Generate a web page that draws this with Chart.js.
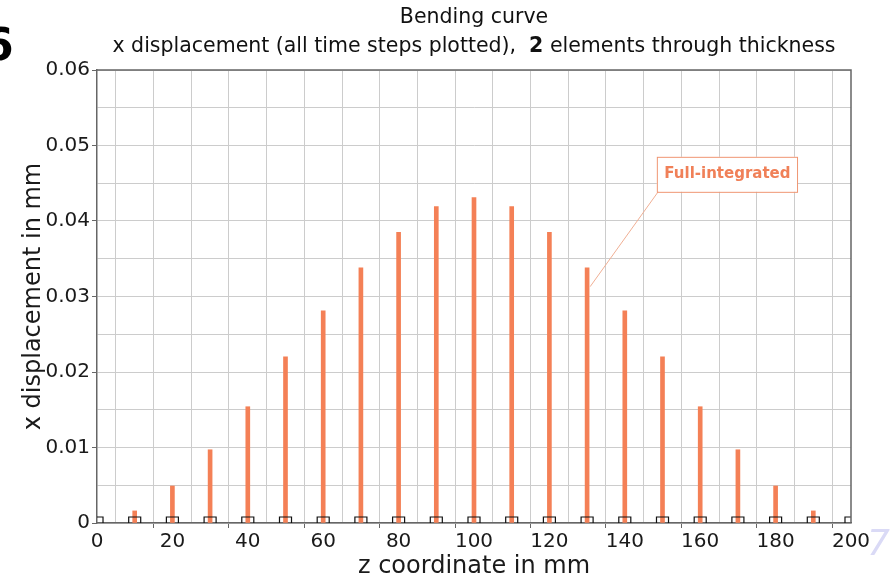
<!DOCTYPE html>
<html>
<head>
<meta charset="utf-8">
<script src="https://cdn.jsdelivr.net/npm/chart.js@4.4.1/dist/chart.umd.min.js"></script>
<style>
  html, body { margin: 0; padding: 0; background: #fff; }
  #wrap { width: 894px; height: 581px; position: relative; }
</style>
</head>
<body>
<div id="wrap"><canvas id="myChart" width="894" height="581"></canvas></div>
<script>
// z positions of the nodes and the x displacement
const zCoords = [10, 20, 30, 40, 50, 60, 70, 80, 90, 100, 110, 120, 130, 140, 150, 160, 170, 180, 190];
const xDisp = [0.0016, 0.0049, 0.0097, 0.0154, 0.0220, 0.0281, 0.0338, 0.0385, 0.0419, 0.0431,
               0.0419, 0.0385, 0.0338, 0.0281, 0.0220, 0.0154, 0.0097, 0.0049, 0.0016];
const nodeZ = [0, 10, 20, 30, 40, 50, 60, 70, 80, 90, 100, 110, 120, 130, 140, 150, 160, 170, 180, 190, 200];
const xTickLabels = ["0", "20", "40", "60", "80", "100", "120", "140", "160", "180", "200"];
const yTickLabels = ["0", "0.01", "0.02", "0.03", "0.04", "0.05", "0.06"];

const FONT = "'DejaVu Sans', sans-serif";
const barColor = "rgb(244,128,86)";

const titlePlugin = {
  id: "titles",
  afterDraw(chart) {
    const ctx = chart.ctx;
    const area = chart.chartArea;
    const cx = (area.left + area.right) / 2;
    ctx.save();
    ctx.fillStyle = "#111";
    ctx.textBaseline = "middle";
    ctx.textAlign = "center";
    ctx.font = "20.5px " + FONT;
    ctx.fillText("Bending curve", cx, 18);

    // subtitle with a bold "2"
    const parts = [
      ["x displacement (all time steps plotted),  ", "20.5px " + FONT],
      ["2", "bold 20.5px " + FONT],
      [" elements through thickness", "20.5px " + FONT],
    ];
    let total = 0;
    parts.forEach(p => { ctx.font = p[1]; total += ctx.measureText(p[0]).width; });
    let x = cx - total / 2;
    ctx.textAlign = "left";
    parts.forEach(p => {
      ctx.font = p[1];
      ctx.fillText(p[0], x, 47);
      x += ctx.measureText(p[0]).width;
    });

    // slide leftovers at the corners
    ctx.font = "bold 44px " + FONT;
    ctx.fillStyle = "#000";
    ctx.textBaseline = "alphabetic";
    ctx.fillText("6", -17, 60);
    ctx.font = "italic 36px " + FONT;
    ctx.fillStyle = "rgb(218,218,246)";
    ctx.fillText("7", 867, 555);

    // annotation
    const xs = chart.scales.x, ys = chart.scales.y;
    const ax = xs.getPixelForValue(130.8), ay = ys.getPixelForValue(0.0313);
    const bx = xs.getPixelForValue(148.5), by = ys.getPixelForValue(0.0485);
    ctx.font = "bold 15px " + FONT;
    const tw = ctx.measureText("Full-integrated").width;
    const bw = tw + 14, bh = 35;
    ctx.strokeStyle = "rgb(240,175,148)";
    ctx.lineWidth = 1;
    ctx.beginPath();
    ctx.moveTo(ax, ay);
    ctx.lineTo(bx + 2, by + bh - 1);
    ctx.stroke();
    ctx.fillStyle = "#fff";
    ctx.fillRect(bx, by, bw, bh);
    ctx.strokeStyle = "rgb(240,150,115)";
    ctx.strokeRect(bx + 0.5, by + 0.5, bw, bh);
    ctx.fillStyle = "rgb(240,128,88)";
    ctx.textAlign = "center";
    ctx.textBaseline = "middle";
    ctx.fillText("Full-integrated", bx + bw / 2 + 0.5, by + bh / 2);
    ctx.restore();
  }
};

const ctx = document.getElementById("myChart").getContext("2d");
const myChart = new Chart(ctx, {
  data: {
    datasets: [
      {
        type: "scatter",
        label: "Nodes",
        data: nodeZ.map(z => ({ x: z, y: 0 })),
        pointStyle: "rect",
        pointRadius: 8.5,
        pointBorderWidth: 1.2,
        pointBorderColor: "#111",
        pointBackgroundColor: "rgba(0,0,0,0)",
        clip: 0,
        order: 0,
      },
      {
        type: "bar",
        label: "Full-integrated",
        data: zCoords.map((z, i) => ({ x: z, y: xDisp[i] })),
        backgroundColor: barColor,
        barThickness: 4,
        order: 1,
      },
    ],
  },
  options: {
    responsive: false,
    animation: false,
    layout: { padding: { top: 70, right: 43, left: 0, bottom: 0 } },
    plugins: { legend: { display: false }, tooltip: { enabled: false }, title: { display: false } },
    scales: {
      x: {
        type: "linear",
        min: 0,
        max: 200,
        offset: false,
        afterFit(scale) { scale.height = 58; },
        ticks: {
          stepSize: 10,
          autoSkip: false,
          maxRotation: 0,
          padding: 2,
          color: "#1a1a1a",
          font: { family: FONT, size: 20 },
          callback: v => (v % 20 === 0 ? xTickLabels[v / 20] : ""),
        },
        grid: {
          color: "#cccccc",
          tickLength: 5,
          tickColor: c => (c.tick && c.tick.value % 20 === 0 ? "#666" : "rgba(0,0,0,0)"),
        },
        border: { color: "#666", width: 1.5 },
        title: {
          display: true,
          text: "z coordinate in mm",
          color: "#1a1a1a",
          font: { family: FONT, size: 24, lineHeight: 1 },
          padding: { top: 0, bottom: 2 },
        },
      },
      y: {
        min: 0,
        max: 0.06,
        afterFit(scale) { scale.width = 97; },
        ticks: {
          stepSize: 0.005,
          autoSkip: false,
          padding: 2,
          color: "#1a1a1a",
          font: { family: FONT, size: 20 },
          callback: v => {
            const k = Math.round(v * 1000);
            return k % 10 === 0 ? yTickLabels[k / 10] : "";
          },
        },
        grid: {
          color: "#cccccc",
          tickLength: 5,
          tickColor: c => (c.tick && Math.round(c.tick.value * 1000) % 10 === 0 ? "#666" : "rgba(0,0,0,0)"),
        },
        border: { color: "#666", width: 1.5 },
        title: {
          display: true,
          text: "x displacement in mm",
          color: "#1a1a1a",
          font: { family: FONT, size: 24, lineHeight: 1 },
          padding: { top: 22, bottom: 0 },
        },
      },
    },
  },
  plugins: [titlePlugin, {
    id: "frame",
    afterDatasetsDraw(chart) {
      const a = chart.chartArea, c = chart.ctx;
      c.save();
      c.strokeStyle = "#666";
      c.lineWidth = 1.5;
      c.beginPath();
      c.moveTo(a.left, a.top);
      c.lineTo(a.right, a.top);
      c.lineTo(a.right, a.bottom);
      c.stroke();
      c.restore();
    }
  }],
});
</script>
</body>
</html>
